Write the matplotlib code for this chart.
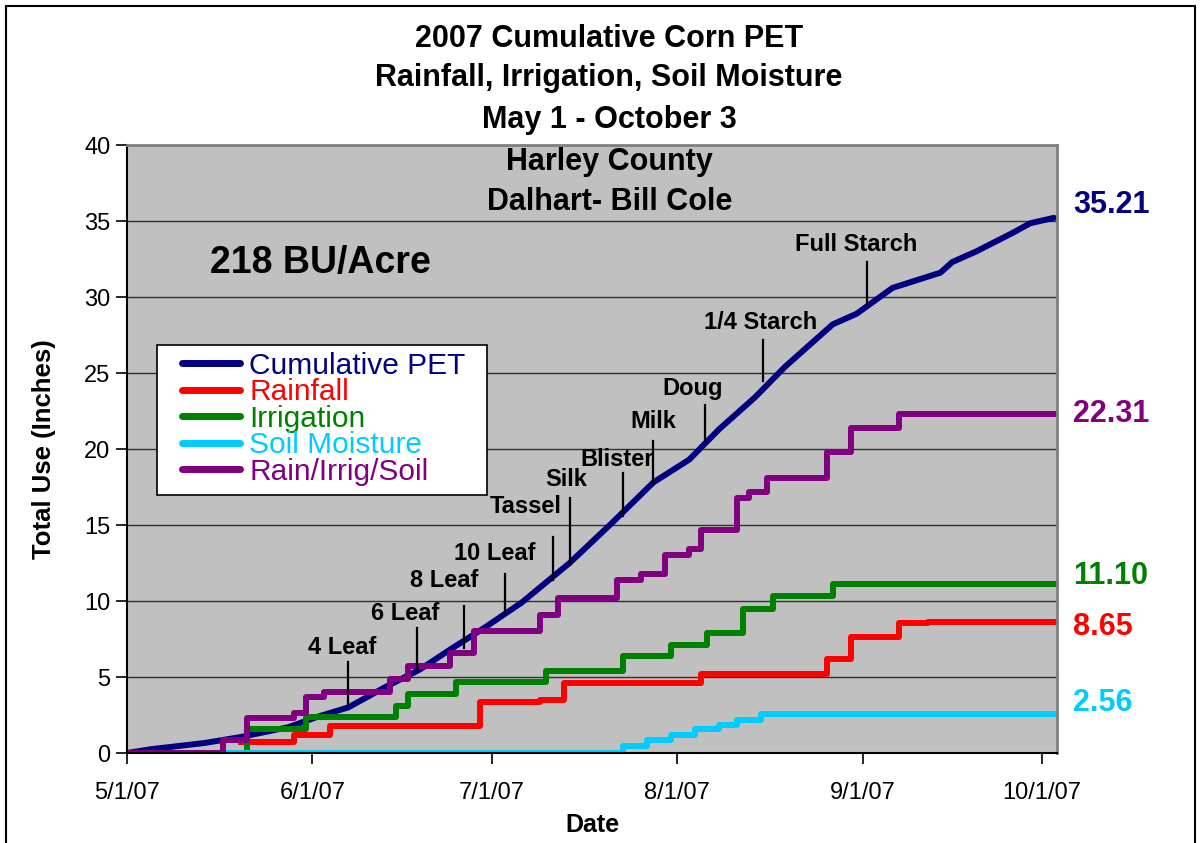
import matplotlib
matplotlib.use("Agg")
import matplotlib.pyplot as plt
import matplotlib.dates as mdates
import matplotlib.transforms as mtransforms
from matplotlib.patches import Rectangle
import pandas as pd

plt.rcParams['font.family'] = ['Liberation Sans', 'DejaVu Sans']

# cumulative PET (inches)
pet_dates = ['2007-05-01', '2007-05-05', '2007-05-14', '2007-05-20', '2007-05-28', '2007-06-02',
             '2007-06-07', '2007-06-13', '2007-06-19', '2007-06-24', '2007-06-30', '2007-07-06',
             '2007-07-14', '2007-07-21', '2007-07-28', '2007-08-03', '2007-08-08', '2007-08-14',
             '2007-08-19', '2007-08-27', '2007-08-31', '2007-09-06', '2007-09-14', '2007-09-16',
             '2007-09-20', '2007-09-26', '2007-09-29', '2007-10-03']
pet_vals = [0, 0.25, 0.66, 1.05, 1.7, 2.4, 3.0, 4.3, 5.5, 6.8, 8.3, 9.9,
            12.5, 15.1, 17.8, 19.3, 21.3, 23.4, 25.4, 28.2, 28.9, 30.6, 31.6, 32.3,
            33.0, 34.2, 34.85, 35.21]

# step series - value after each change
rain_dates = ['2007-05-20', '2007-05-29', '2007-06-04', '2007-06-29', '2007-07-09', '2007-07-13',
              '2007-08-05', '2007-08-26', '2007-08-30', '2007-09-07', '2007-09-12', '2007-10-03']
rain_vals = [0.7, 1.2, 1.8, 3.35, 3.5, 4.6, 5.2, 6.2, 7.6, 8.55, 8.65, 8.65]

irr_dates = ['2007-05-20', '2007-05-21', '2007-05-31', '2007-06-15', '2007-06-17', '2007-06-25',
             '2007-07-10', '2007-07-23', '2007-07-31', '2007-08-06', '2007-08-12', '2007-08-17',
             '2007-08-27', '2007-10-03']
irr_vals = [0, 1.6, 2.4, 3.1, 3.9, 4.7, 5.4, 6.4, 7.1, 7.9, 9.5, 10.3, 11.1, 11.1]

soil_dates = ['2007-05-17', '2007-07-23', '2007-07-27', '2007-07-31', '2007-08-04', '2007-08-08',
              '2007-08-11', '2007-08-15', '2007-10-03']
soil_vals = [0, 0.45, 0.85, 1.2, 1.55, 1.85, 2.2, 2.56, 2.56]

tot_dates = ['2007-05-01', '2007-05-17', '2007-05-21', '2007-05-29', '2007-05-31', '2007-06-03',
             '2007-06-14', '2007-06-17', '2007-06-24', '2007-06-28', '2007-07-09', '2007-07-12',
             '2007-07-22', '2007-07-26', '2007-07-30', '2007-08-03', '2007-08-05', '2007-08-11',
             '2007-08-13', '2007-08-16', '2007-08-26', '2007-08-30', '2007-09-07', '2007-10-03']
tot_vals = [0, 0.86, 2.3, 2.6, 3.7, 4.0, 4.9, 5.7, 6.6, 8.0, 9.1, 10.2,
            11.4, 11.8, 13.0, 13.4, 14.7, 16.8, 17.2, 18.1, 19.8, 21.4, 22.31, 22.31]

# growth stages
stage_names = ['4 Leaf', '6 Leaf', '8 Leaf', '10 Leaf', 'Tassel', 'Silk', 'Blister', 'Milk',
               'Doug', '1/4 Starch', 'Full Starch']
stage_line_dates = ['2007-06-07', '2007-06-18 12:00', '2007-06-26 10:00', '2007-07-03 05:00',
                    '2007-07-11 05:00', '2007-07-14', '2007-07-23', '2007-07-28',
                    '2007-08-05 17:00', '2007-08-15 10:00', '2007-09-01 17:00']
stage_top = [6.0, 8.2, 9.7, 11.8, 14.2, 16.8, 18.4, 20.5, 22.9, 27.2, 32.3]
stage_bottom = [3.2, 5.5, 6.9, 9.1, 11.4, 12.4, 15.6, 17.6, 20.5, 24.5, 29.5]
stage_text_dates = ['2007-06-06', '2007-06-16 12:00', '2007-06-23', '2007-07-01 12:00',
                    '2007-07-06 14:00', '2007-07-13 10:00', '2007-07-22', '2007-07-28',
                    '2007-08-03 12:00', '2007-08-15', '2007-08-31']
stage_text_y = [6.5, 8.75, 10.9, 12.7, 15.8, 17.55, 18.9, 21.35, 23.55, 27.9, 33.05]

series_names = ['Cumulative PET', 'Rainfall', 'Irrigation', 'Soil Moisture', 'Rain/Irrig/Soil']
colors = ['#000080', '#FF0000', '#008000', '#00CCFF', '#800080']
end_labels = ['35.21', '22.31', '11.10', '8.65', '2.56']
end_label_y = [36.05, 22.31, 11.64, 8.29, 3.29]
end_label_colors = ['#000080', '#800080', '#008000', '#FF0000', '#00CCFF']


def date_fmt(v, pos):
    d = mdates.num2date(v)
    return '%d/%d/%s' % (d.month, d.day, d.strftime('%y'))


fig = plt.figure(figsize=(12.01, 8.43), dpi=100)
ax = fig.add_axes([127/1201, 1-753/843, 930/1201, 608/843])
ax.set_facecolor('#C0C0C0')

lw = 4.3
l1, = ax.plot(pd.to_datetime(pet_dates), pet_vals, color=colors[0], lw=lw, solid_capstyle='round')
l2, = ax.plot(pd.to_datetime(rain_dates), rain_vals, color=colors[1], lw=lw, drawstyle='steps-post')
l3, = ax.plot(pd.to_datetime(irr_dates), irr_vals, color=colors[2], lw=lw, drawstyle='steps-post')
l4, = ax.plot(pd.to_datetime(soil_dates), soil_vals, color=colors[3], lw=lw, drawstyle='steps-post')
l5, = ax.plot(pd.to_datetime(tot_dates), tot_vals, color=colors[4], lw=lw, drawstyle='steps-post')

for i in range(len(stage_names)):
    d = pd.to_datetime(stage_line_dates[i])
    ax.plot([d, d], [stage_bottom[i], stage_top[i]], color='black', lw=1.6)
    ax.text(pd.to_datetime(stage_text_dates[i]), stage_text_y[i], stage_names[i],
            ha='center', va='baseline', fontsize=17, fontweight='bold')

ax.set_ylim(0, 40)
ax.set_xlim(pd.to_datetime('2007-05-01'), pd.to_datetime('2007-10-03 12:00'))
ax.set_yticks(range(0, 41, 5))
ax.yaxis.grid(True, color='#303030', lw=1)
ax.set_axisbelow(True)
ax.xaxis.set_major_locator(mdates.MonthLocator())
ax.xaxis.set_major_formatter(plt.FuncFormatter(date_fmt))
ax.tick_params(axis='both', direction='out', length=8, width=1.2, labelsize=17, colors='black')
ax.tick_params(axis='x', pad=13)
ax.tick_params(axis='y', pad=4)
ax.spines['left'].set_color('black')
ax.spines['bottom'].set_color('black')
ax.spines['left'].set_linewidth(1.5)
ax.spines['bottom'].set_linewidth(1.5)
ax.spines['top'].set_color('#808080')
ax.spines['right'].set_color('#808080')
ax.spines['top'].set_linewidth(2)
ax.spines['right'].set_linewidth(2)

ax.set_ylabel('Total Use (Inches)', fontsize=18.5, fontweight='bold', labelpad=20)
ax.set_xlabel('Date', fontsize=18, fontweight='bold', labelpad=6)

# titles
title_lines = ['2007 Cumulative Corn PET', 'Rainfall, Irrigation, Soil Moisture', 'May 1 - October 3']
title_y = [0.9535, 0.907, 0.8575]
for t, y in zip(title_lines, title_y):
    fig.text(0.507, y, t, ha='center', va='center', fontsize=22, fontweight='bold')

ax.text(0.519, 0.972, 'Harley County', transform=ax.transAxes, ha='center', va='center',
        fontsize=22, fontweight='bold')
ax.text(0.519, 0.906, 'Dalhart- Bill Cole', transform=ax.transAxes, ha='center', va='center',
        fontsize=22, fontweight='bold')
ax.text(0.2075, 0.806, '218 BU/Acre', transform=ax.transAxes, ha='center', va='center',
        fontsize=27, fontweight='bold')

# end values
trans = mtransforms.blended_transform_factory(ax.transAxes, ax.transData)
for lab, y, c in zip(end_labels, end_label_y, end_label_colors):
    ax.text(1.017, y, lab, transform=trans, ha='left', va='center', fontsize=22,
            fontweight='bold', color=c, clip_on=False)

# legend: white box drawn separately so the side padding can be wider than the top
ax.add_patch(Rectangle((0.0323, 0.4243), 0.3548, 0.2467, transform=ax.transAxes,
                       facecolor='white', edgecolor='black', lw=1.2, zorder=4.5))
leg = ax.legend([l1, l2, l3, l4, l5], series_names, loc='upper left',
                bbox_to_anchor=(0.0591, 0.66), borderaxespad=0, fontsize=21.5,
                labelcolor='linecolor', frameon=False, handlelength=1.95,
                handletextpad=0.3, labelspacing=-0.05, borderpad=0)
for h in leg.get_lines():
    h.set_linewidth(5)
    h.set_solid_capstyle('round')

# outer border
fig.patches.append(Rectangle((0.005, -0.01), 0.99, 1.0029, transform=fig.transFigure,
                             fill=False, edgecolor='black', lw=1.5))

fig.savefig('out.png', dpi=100)
